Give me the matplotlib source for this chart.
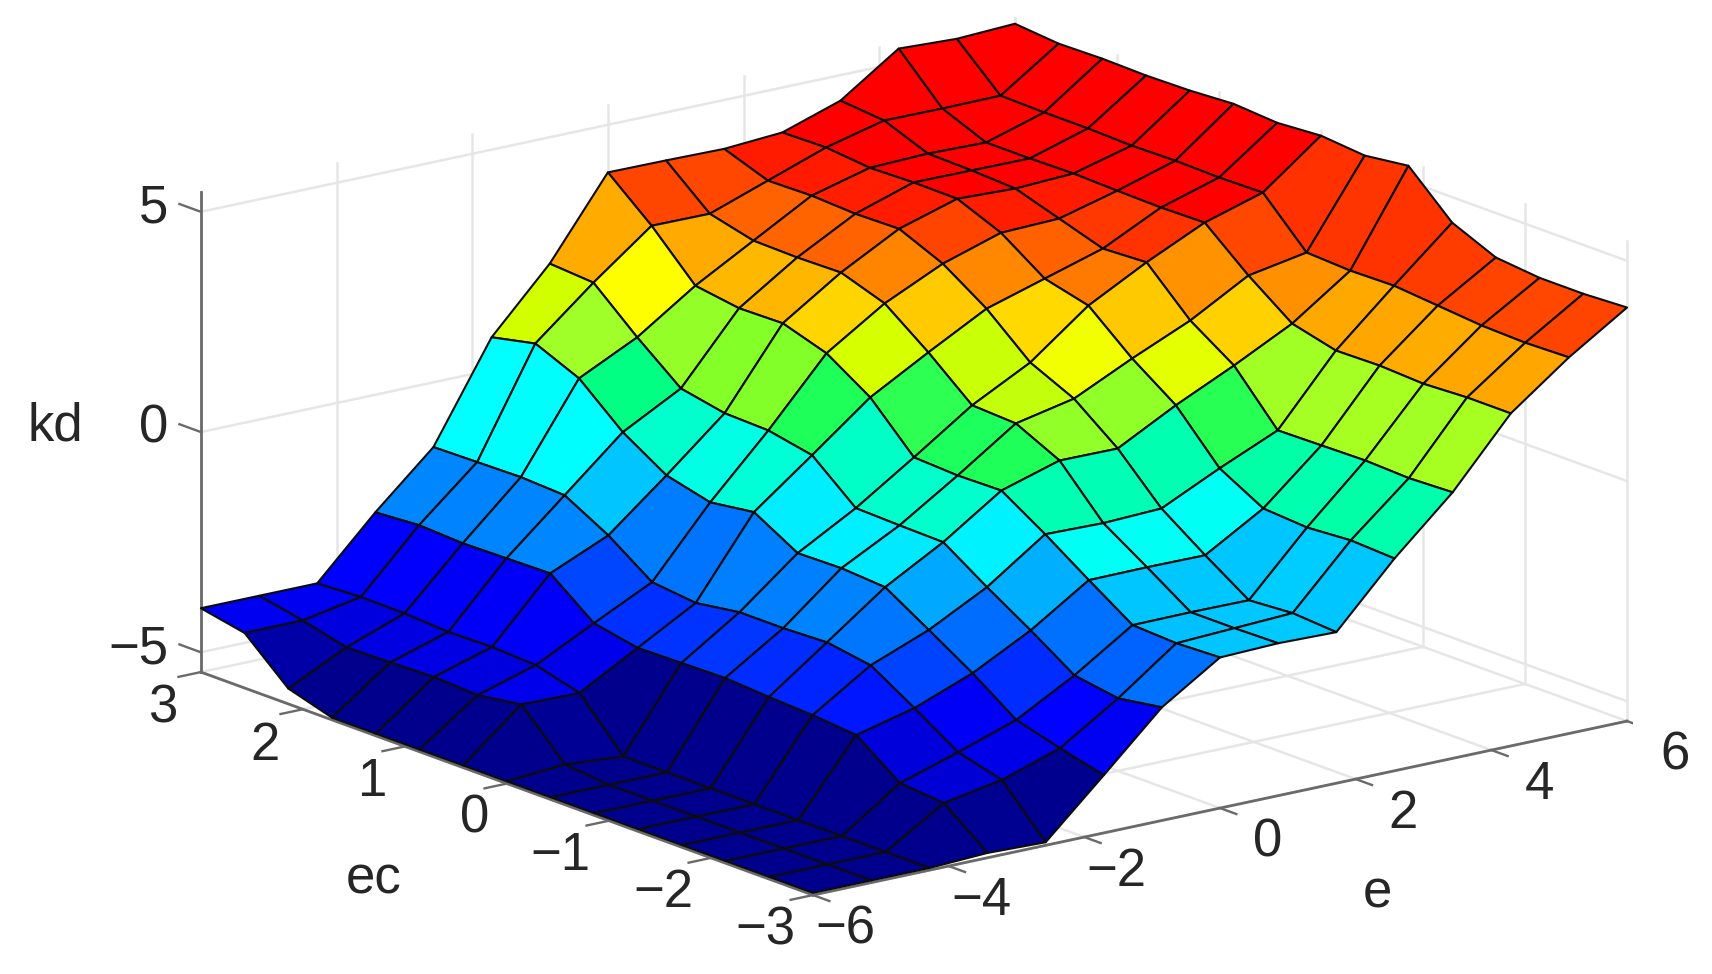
import numpy as np
import matplotlib
matplotlib.use("Agg")
import matplotlib.pyplot as plt
from mpl_toolkits.mplot3d import proj3d

plt.rcParams['font.family'] = ['Liberation Sans', 'DejaVu Sans']

# grid of the surface
e_grid = np.linspace(-6, 6, 15)
ec_grid = np.linspace(-3, 3, 15)

# kd surface, one row per e value, ec from -3 to 3 along the row
kd_rows = [
    [-5.4, -5.4, -5.4, -5.4, -5.4, -5.4, -5.4, -5.4, -5.4, -5.4, -5.4, -5.4, -5.1, -4.2, -4.0],
    [-5.4, -5.4, -5.4, -5.4, -5.4, -5.4, -5.4, -5.3, -4.3, -4.45, -4.4, -4.43, -4.45, -4.2, -4.0],
    [-5.4, -5.4, -5.4, -5.4, -5.4, -5.4, -5.4, -5.4, -4.32, -4.05, -4.0, -4.02, -3.96, -3.95, -4.0],
    [-5.34, -4.57, -4.48, -3.75, -3.66, -3.61, -3.54, -3.56, -3.58, -3.38, -2.61, -2.63, -2.65, -2.6, -2.67],
    [-5.38, -4.33, -4.06, -3.42, -2.81, -2.65, -2.69, -2.69, -2.84, -2.73, -2.03, -1.48, -1.43, -1.45, -1.47],
    [-4.14, -3.89, -3.61, -2.91, -2.29, -1.68, -1.61, -1.63, -1.06, -1.2, -0.95, -0.33, 0.53, 0.96, 0.74],
    [-2.88, -3.04, -2.88, -2.22, -1.6, -0.94, -0.92, -0.89, -0.05, 0.15, 0.18, 0.38, 1.18, 2.06, 2.13],
    [-2.03, -2.07, -2.02, -1.36, -0.68, -0.05, -0.07, -0.02, 0.98, 1.62, 1.94, 1.92, 2.07, 3.07, 3.92],
    [-1.99, -2.01, -2.01, -1.35, -0.71, 0.35, 0.83, 0.88, 1.72, 2.47, 2.81, 2.79, 2.81, 3.06, 3.91],
    [-2.02, -1.95, -2.02, -1.36, -0.66, 0.34, 1.11, 1.57, 2.43, 3.09, 3.52, 3.5, 3.55, 3.53, 3.89],
    [-0.63, -0.58, -0.65, -0.58, -0.03, 1.04, 1.74, 2.58, 2.83, 3.51, 3.92, 3.93, 3.9, 4.0, 3.98],
    [0.59, 0.55, 0.59, 0.57, 0.55, 1.66, 2.32, 3.28, 3.23, 3.55, 3.87, 3.92, 3.94, 4.33, 4.42],
    [2.1, 2.1, 2.05, 2.1, 2.08, 2.33, 3.06, 3.9, 3.88, 3.9, 3.93, 3.91, 3.91, 4.32, 5.32],
    [3.09, 3.06, 3.09, 3.18, 3.27, 3.25, 3.3, 4.3, 4.28, 4.3, 4.28, 4.31, 4.31, 4.33, 5.26],
    [3.94, 3.89, 3.89, 3.99, 4.42, 5.35, 5.22, 5.31, 5.24, 5.31, 5.25, 5.23, 5.25, 5.23, 5.32],
]

# colour lookup: kd value -> r, g, b
color_kd = [-5.4, -4.3, -3.9, -3.5, -2.6, -2.0, -1.46, -0.6, -0.33, -0.05, 0.15, 0.53, 0.96, 1.17,
            1.7, 2.07, 2.6, 3.07, 3.5, 3.85]
color_r = [0, 0, 0, 0, 0, 0, 0, 0, 0, 30, 130, 160, 210, 255, 255, 255, 255, 255, 255, 255]
color_g = [0, 0, 0, 60, 135, 200, 255, 255, 255, 255, 255, 255, 255, 255, 205, 170, 120, 70, 30, 0]
color_b = [140, 235, 255, 255, 255, 255, 255, 170, 130, 90, 40, 40, 0, 0, 0, 0, 0, 0, 0, 0]

# axes
e_lim = (-6, 6)
ec_lim = (-3, 3)
z_lim = (-5.45, 5.45)
e_ticks = [-6, -4, -2, 0, 2, 4, 6]
ec_ticks = [-3, -2, -1, 0, 1, 2, 3]
z_ticks = [-5, 0, 5]
e_labels = ['\u22126', '\u22124', '\u22122', '0', '2', '4', '6']
ec_labels = ['\u22123', '\u22122', '\u22121', '0', '1', '2', '3']
ec_label_nudge = [0, 0, 0, 0, 0, -0.08, -0.08]
z_labels = ['\u22125', '0', '5']

GRID = '#e6e6e6'
AXIS = '#6a6a6a'
TEXT = '#262626'
FS = 38

W, H = 1712, 974
fig = plt.figure(figsize=(W / 100, H / 100), dpi=100, facecolor='white')
S = 1477
ax = fig.add_axes([155.5 / W, -241 / H, S / W, S / H], projection='3d')
ax.set_proj_type('ortho')
ax.computed_zorder = False
ax.view_init(elev=16.2, azim=-127.45)
ax.set_box_aspect((1025.3, 1006.6, 499.9))
ax.set_axis_off()
ax.patch.set_alpha(0)
ax.set_xlim(*e_lim)
ax.set_ylim(*ec_lim)
ax.set_zlim(*z_lim)


def label(e, ec, z, s, ha):
    x, y, _ = proj3d.proj_transform(e, ec, z, ax.get_proj())
    ax.text2D(x, y, s, transform=ax.transData, ha=ha, va='center',
              fontsize=FS, color=TEXT, zorder=5)


Z = np.array(kd_rows)
E, EC = np.meshgrid(e_grid, ec_grid, indexing='ij')
face = np.dstack([np.interp(Z, color_kd, color_r) / 255,
                  np.interp(Z, color_kd, color_g) / 255,
                  np.interp(Z, color_kd, color_b) / 255,
                  np.ones_like(Z)])

glw = 1.8
# back wall ec = 3 and back wall e = 6
for v in e_ticks:
    ax.plot([v, v], [ec_lim[1]] * 2, z_lim, color=GRID, lw=glw, zorder=1)
    ax.plot([v, v], ec_lim, [z_lim[0]] * 2, color=GRID, lw=glw, zorder=1)
for v in ec_ticks:
    ax.plot([e_lim[1]] * 2, [v, v], z_lim, color=GRID, lw=glw, zorder=1)
    ax.plot(e_lim, [v, v], [z_lim[0]] * 2, color=GRID, lw=glw, zorder=1)
for v in z_ticks:
    ax.plot(e_lim, [ec_lim[1]] * 2, [v, v], color=GRID, lw=glw, zorder=1)
    ax.plot([e_lim[1]] * 2, ec_lim, [v, v], color=GRID, lw=glw, zorder=1)

alw = 2.0
ax.plot([e_lim[0]] * 2, ec_lim, [z_lim[0]] * 2, color=AXIS, lw=alw, zorder=2)
ax.plot(e_lim, [ec_lim[0]] * 2, [z_lim[0]] * 2, color=AXIS, lw=alw, zorder=2)
ax.plot([e_lim[0]] * 2, [ec_lim[1]] * 2, z_lim, color=AXIS, lw=alw, zorder=2)

tlw = 1.7
for v, s, n in zip(ec_ticks, ec_labels, ec_label_nudge):
    ax.plot([e_lim[0], e_lim[0] - 0.33], [v, v], [z_lim[0]] * 2, color=AXIS, lw=tlw, zorder=2)
    label(e_lim[0] - 0.265 + n, v, z_lim[0] - 0.71, s, 'right')
for v, s in zip(e_ticks, e_labels):
    ax.plot([v, v], [ec_lim[0], ec_lim[0] - 0.16], [z_lim[0]] * 2, color=AXIS, lw=tlw, zorder=2)
    label(v + 0.92, ec_lim[0], z_lim[0] - 1.09, s, 'right')
for v, s in zip(z_ticks, z_labels):
    ax.plot([e_lim[0]] * 2, [ec_lim[1], ec_lim[1] + 0.21], [v, v], color=AXIS, lw=tlw, zorder=2)
    label(e_lim[0], ec_lim[1] + 0.32, v - 0.2, s, 'right')

label(e_lim[0] - 1.96, 0, z_lim[0] - 1.53, 'ec', 'center')
label(2.32, ec_lim[0], z_lim[0] - 2.71, 'e', 'center')
label(e_lim[0], ec_lim[1] + 1.43, -1.08, 'kd', 'center')

ax.plot_surface(E, EC, Z, rstride=1, cstride=1, facecolors=face, shade=False,
                edgecolor='#0c0c0c', linewidth=1.5, antialiased=True, zorder=3)

ax.set_xlim(*e_lim)
ax.set_ylim(*ec_lim)
ax.set_zlim(*z_lim)

fig.savefig('out.png', dpi=100, facecolor='white')
